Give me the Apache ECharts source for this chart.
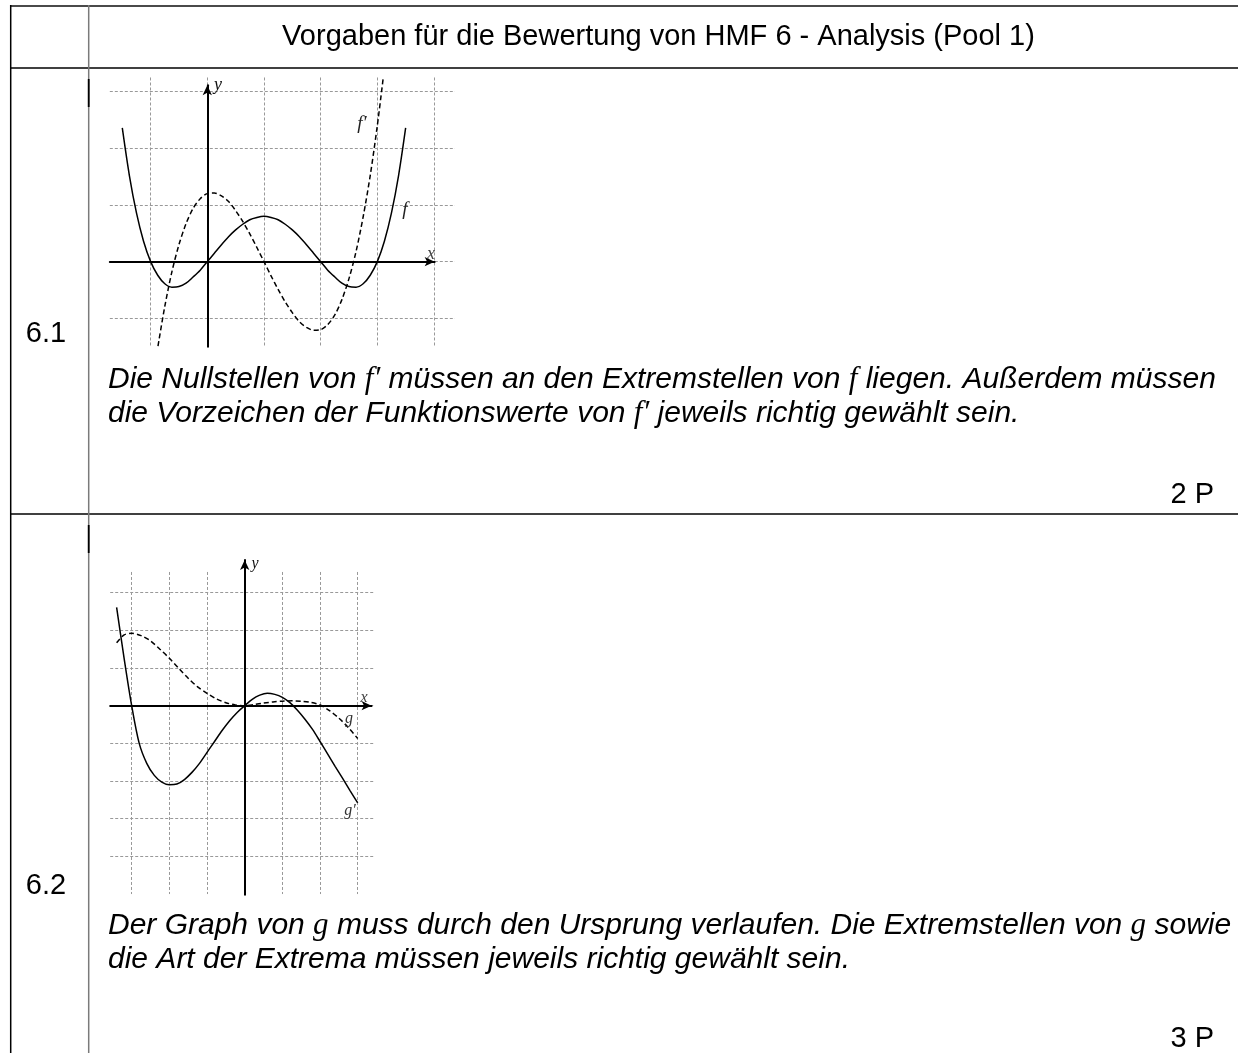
<!DOCTYPE html>
<html>
<head>
<meta charset="utf-8">
<script src="https://cdn.jsdelivr.net/npm/echarts@6/dist/echarts.min.js"></script>
<style>
  html, body { margin: 0; padding: 0; background: #ffffff; }
  #c { width: 1238px; height: 1053px; }
</style>
</head>
<body>
<div id="c"></div>
<script>
// ---- 6.1: f (solid) and f' (dashed) ----
const fX  = [-1.5, -1.375, -1.25, -1.125, -1, -0.875, -0.75, -0.625, -0.5, -0.375, -0.25, -0.125, 0,
             0.125, 0.25, 0.375, 0.5, 0.625, 0.75, 0.875, 1, 1.125, 1.25, 1.375, 1.5, 1.625, 1.75, 1.875, 2,
             2.125, 2.25, 2.375, 2.5, 2.625, 2.75, 2.875, 3, 3.125, 3.25, 3.375, 3.5];
const fY  = [2.36, 1.52, 0.86, 0.36, 0, -0.24, -0.39, -0.45, -0.44, -0.38, -0.27, -0.15, 0,
             0.15, 0.30, 0.44, 0.56, 0.66, 0.74, 0.78, 0.80, 0.78, 0.74, 0.66, 0.56, 0.44, 0.30, 0.15, 0,
             -0.15, -0.27, -0.38, -0.44, -0.45, -0.39, -0.24, 0, 0.36, 0.86, 1.52, 2.36];
const fpX = [-0.87, -0.75, -0.625, -0.5, -0.375, -0.25, -0.125, 0, 0.125, 0.25, 0.375, 0.5, 0.625, 0.75, 0.875, 1,
             1.125, 1.25, 1.375, 1.5, 1.625, 1.75, 1.875, 2, 2.125, 2.25, 2.375, 2.5, 2.625, 2.75, 2.875, 3, 3.105];
const fpY = [-1.49, -0.79, -0.18, 0.30, 0.67, 0.94, 1.11, 1.20, 1.21, 1.16, 1.06, 0.90, 0.71, 0.49, 0.25, 0,
             -0.25, -0.49, -0.71, -0.90, -1.06, -1.16, -1.21, -1.20, -1.11, -0.94, -0.67, -0.30, 0.18, 0.79, 1.52, 2.40, 3.25];

// ---- 6.2: g' (solid) and g (dashed) ----
const gpX = [-3.4, -3.2, -3.0, -2.8, -2.6, -2.4, -2.2, -2.0, -1.8, -1.6, -1.4, -1.2, -1.0, -0.8, -0.6, -0.4, -0.2, 0,
             0.2, 0.4, 0.6, 0.8, 1.0, 1.2, 1.4, 1.6, 1.8, 2.0, 2.2, 2.4, 2.6, 2.8, 3.0];
const gpY = [2.61, 1.25, 0, -1.0, -1.53, -1.85, -2.03, -2.10, -2.08, -1.96, -1.77, -1.53, -1.24, -0.95, -0.66, -0.40, -0.18, 0,
             0.17, 0.28, 0.33, 0.30, 0.22, 0.08, -0.12, -0.36, -0.63, -0.95, -1.28, -1.61, -1.93, -2.26, -2.58];
const gX  = [-3.4, -3.2, -3.0, -2.75, -2.5, -2.25, -2.0, -1.75, -1.5, -1.25, -1.0, -0.75, -0.5, -0.25, 0,
             0.25, 0.5, 0.75, 1.0, 1.25, 1.5, 1.75, 2.0, 2.25, 2.5, 2.75, 3.0];
const gY  = [1.67, 1.88, 1.92, 1.86, 1.72, 1.50, 1.26, 0.99, 0.73, 0.50, 0.33, 0.18, 0.08, 0.02, 0,
             0.03, 0.07, 0.10, 0.12, 0.13, 0.12, 0.09, 0.02, -0.13, -0.33, -0.58, -0.87];

// ---- table texts ----
const titleText = 'Vorgaben für die Bewertung von HMF 6 - Analysis (Pool 1)';
const rowNumbers = ['6.1', '6.2'];
const rowPoints = ['2 P', '3 P'];
const row1Lines = [
  'Die Nullstellen von {m|f′} müssen an den Extremstellen von {m|f} liegen. Außerdem müssen',
  'die Vorzeichen der Funktionswerte von {m|f′} jeweils richtig gewählt sein.'
];
const row2Lines = [
  'Der Graph von {m|g} muss durch den Ursprung verlaufen. Die Extremstellen von {m|g} sowie',
  'die Art der Extrema müssen jeweils richtig gewählt sein.'
];

// ---- plot frames (origin in px, px per unit, visible ranges) ----
const P1 = { ox: 207.3, oy: 261.65, u: 56.67,
  grid: { x: [-1.72, 4.37], y: [-1.5, 3.25] },
  tip:  { x: [-1.72, 4.1],  y: [-1.5, 3.2] } };
const P2 = { ox: 244.7, oy: 705.7, u: 37.67,
  grid: { x: [-3.57, 3.46], y: [-5.0, 3.55] },
  tip:  { x: [-3.57, 3.5],  y: [-5.02, 4.0] } };

const ARROW = [7, 10];

function gridRect(P, r) {
  return {
    left: P.ox + r.x[0] * P.u,
    top: P.oy - r.y[1] * P.u,
    width: (r.x[1] - r.x[0]) * P.u,
    height: (r.y[1] - r.y[0]) * P.u,
    containLabel: false
  };
}
// the arrow symbol is centred on the line end, so pull the end back by half its length
function axisRange(P, r) {
  const back = ARROW[1] / 2 / P.u;
  return { x: [r.x[0], r.x[1] - back], y: [r.y[0], r.y[1] - back] };
}

const gridLineStyle = { show: true, lineStyle: { color: '#999999', width: 1, type: [3, 2] }, showMinLine: false, showMaxLine: false };
function gridAxis(idx, range) {
  return {
    type: 'value', gridIndex: idx, min: range[0], max: range[1],
    minInterval: 1, maxInterval: 1,
    axisLine: { show: false }, axisTick: { show: false }, axisLabel: { show: false },
    splitLine: gridLineStyle
  };
}
function arrowAxis(idx, range) {
  return {
    type: 'value', gridIndex: idx, min: range[0], max: range[1],
    axisLine: { show: true, onZero: true, symbol: ['none', 'arrow'], symbolSize: ARROW,
      lineStyle: { color: '#000', width: 2 } },
    axisTick: { show: false }, axisLabel: { show: false }, splitLine: { show: false }
  };
}

const r1 = axisRange(P1, P1.tip);
const r2 = axisRange(P2, P2.tip);

function pairs(xs, ys) { return xs.map((x, i) => [x, ys[i]]); }
function curve(name, xs, ys, idx, dashed) {
  return {
    name, type: 'line', xAxisIndex: idx, yAxisIndex: idx,
    data: pairs(xs, ys), smooth: 0.3, showSymbol: false, symbol: 'none',
    clip: false, silent: true, z: 5,
    lineStyle: { color: '#000', width: 1.5, type: dashed ? [5, 3] : 'solid' }
  };
}

// ---- table frame & texts ----
const sansFont = '"Liberation Sans", Arial, sans-serif';
const serifFont = '"Liberation Serif", "Times New Roman", serif';
const FS = 29;
const FP = 30;
const mathRich = { m: { fontFamily: serifFont, fontStyle: 'italic', fontSize: FP + 1, fill: '#000' } };

function hline(y, x1, x2, color, w) {
  return { type: 'line', shape: { x1, y1: y, x2, y2: y }, style: { stroke: color, lineWidth: w }, silent: true };
}
function vline(x, y1, y2, color, w) {
  return { type: 'line', shape: { x1: x, y1, x2: x, y2 }, style: { stroke: color, lineWidth: w }, silent: true };
}
function txt(text, x, y, opt) {
  return { type: 'text', x, y, silent: true, z: 10,
    style: Object.assign({ text, fill: '#000', fontFamily: sansFont, fontSize: FS,
      align: 'left', verticalAlign: 'middle' }, opt || {}) };
}
function para(text, x, y) {
  return txt(text, x, y, { fontStyle: 'italic', fontSize: FP, rich: mathRich });
}
function mathLabel(text, x, y, size, color) {
  return { type: 'text', x, y, silent: true, z: 10,
    style: { text, fill: color, fontFamily: serifFont, fontStyle: 'italic', fontSize: size,
      align: 'center', verticalAlign: 'middle' } };
}

const graphics = [
  hline(6, 10, 1238, '#4a4a4a', 2),
  hline(68, 10, 1238, '#000', 1.6),
  hline(514, 10, 1238, '#000', 1.6),
  vline(10.7, 5, 1053, '#000', 1.5),
  vline(88.7, 5, 1053, '#7a7a7a', 1.5),
  vline(88.7, 79, 107, '#000', 1.8),
  vline(88.7, 525, 553, '#000', 1.8),

  txt(titleText, 658.5, 37, { align: 'center' }),
  txt(rowNumbers[0], 46, 334, { align: 'center' }),
  txt(rowNumbers[1], 46, 886, { align: 'center' }),
  txt(rowPoints[0], 1214, 495, { align: 'right' }),
  txt(rowPoints[1], 1214, 1039, { align: 'right' }),
  para(row1Lines[0], 108, 380),
  para(row1Lines[1], 108, 414),
  para(row2Lines[0], 108, 926),
  para(row2Lines[1], 108, 960),

  // axis and curve names
  mathLabel('y', 218, 85, 18, '#111'),
  mathLabel('x', 431, 254, 18, '#444'),
  mathLabel('f′', 362, 124, 19, '#222'),
  mathLabel('f', 405, 210, 19, '#222'),
  mathLabel('y', 255, 564, 16, '#111'),
  mathLabel('x', 364, 698, 16, '#444'),
  mathLabel('g', 349, 719, 16, '#333'),
  mathLabel('g′', 350, 811, 16, '#333')
];

const chart = echarts.init(document.getElementById('c'), null, { renderer: 'canvas' });
chart.setOption({
  animation: false,
  backgroundColor: '#ffffff',
  grid: [gridRect(P1, P1.grid), gridRect(P1, r1), gridRect(P2, P2.grid), gridRect(P2, r2)],
  xAxis: [gridAxis(0, P1.grid.x), arrowAxis(1, r1.x), gridAxis(2, P2.grid.x), arrowAxis(3, r2.x)],
  yAxis: [gridAxis(0, P1.grid.y), arrowAxis(1, r1.y), gridAxis(2, P2.grid.y), arrowAxis(3, r2.y)],
  series: [
    curve('f', fX, fY, 1, false),
    curve("f'", fpX, fpY, 1, true),
    curve("g'", gpX, gpY, 3, false),
    curve('g', gX, gY, 3, true)
  ],
  graphic: { elements: graphics }
});
</script>
</body>
</html>
